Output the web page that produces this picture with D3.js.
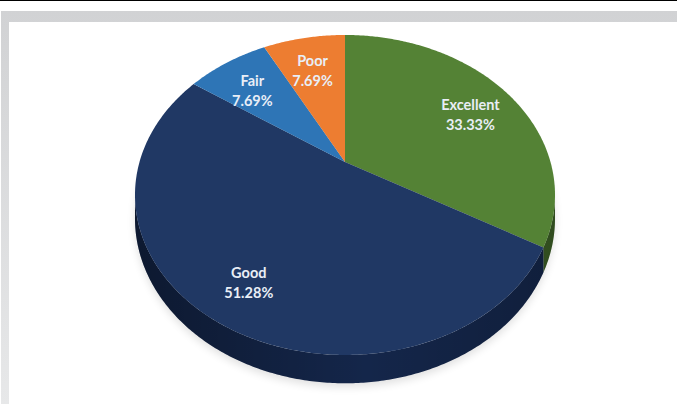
<!DOCTYPE html>
<html>
<head>
<meta charset="utf-8">
<script src="https://cdn.jsdelivr.net/npm/d3@7"></script>
<style>
  html, body { margin: 0; padding: 0; background: #ffffff; }
  svg { display: block; }
</style>
</head>
<body>
<svg id="chart" width="677" height="404"></svg>
<script>
// Survey rating shares
const categories = ["Excellent", "Good", "Fair", "Poor"];
const shares = [33.33, 51.28, 7.69, 7.69];
const shareLabels = ["33.33%", "51.28%", "7.69%", "7.69%"];
const topColors = ["#548235", "#203864", "#2e75b6", "#ed7d31"];
const sideColors = ["#3c5f26", "#14264a", "#1f5486", "#b45c20"];

const W = 677, H = 404;
const svg = d3.select("#chart");

// Frame: thin rule on top and a grey gradient border
const defs = svg.append("defs");
const fg = defs.append("linearGradient").attr("id", "frameGrad")
  .attr("x1", 0).attr("y1", 0).attr("x2", 0).attr("y2", 1);
fg.append("stop").attr("offset", "0%").attr("stop-color", "#d1d2d4");
fg.append("stop").attr("offset", "100%").attr("stop-color", "#e7e8e9");

svg.append("rect").attr("x", 0).attr("y", 0).attr("width", W).attr("height", 1).attr("fill", "#000");
svg.append("rect").attr("x", 1).attr("y", 11).attr("width", W - 1).attr("height", H - 11).attr("fill", "url(#frameGrad)");
svg.append("rect").attr("x", 9).attr("y", 22).attr("width", W - 9).attr("height", H - 22).attr("fill", "#ffffff");

// Perspective projection of the pie disk
const cx = 345, cy = 162;      // projected centre of the disk
const A = 205.5, B = 153.2;    // horizontal / vertical scale at centre
const c = 0.206;               // perspective foreshortening
const depth = 22.5;            // thickness of the pie

function proj(theta, r, dz) {
  const u = r * Math.sin(theta), v = r * Math.cos(theta);
  const w = 1 + c * v;
  return [cx + A * u / w, cy - B * v / w + dz / w];
}

function arcPoints(a0, a1, r, dz) {
  const n = Math.max(2, Math.ceil((a1 - a0) / 0.01));
  return d3.range(n + 1).map(i => proj(a0 + (a1 - a0) * i / n, r, dz));
}

const pie = d3.pie().sort(null).value(d => d.value);
const data = categories.map((name, i) => ({ name, value: shares[i], label: shareLabels[i], i }));
const arcs = pie(data);

// Soft shadow under the pie
const blur = defs.append("filter").attr("id", "soft").attr("x", "-20%").attr("y", "-20%").attr("width", "140%").attr("height", "140%");
blur.append("feGaussianBlur").attr("stdDeviation", 4);
const shadowPts = arcPoints(0, 2 * Math.PI, 1.0, depth + 3);
svg.append("path")
  .attr("d", d3.line()(shadowPts) + "Z")
  .attr("fill", "#000").attr("opacity", 0.12)
  .attr("filter", "url(#soft)");

// Side walls (front-facing part of the rim only)
const thetaS = Math.acos(-c);
const sideG = svg.append("g");
arcs.forEach(a => {
  const s = Math.max(a.startAngle, thetaS);
  const e = Math.min(a.endAngle, 2 * Math.PI - thetaS);
  if (e <= s) return;
  const topRim = arcPoints(s, e, 1, 0);
  const botRim = arcPoints(s, e, 1, depth).reverse();
  sideG.append("path")
    .attr("d", d3.line()(topRim.concat(botRim)) + "Z")
    .attr("fill", sideColors[a.data.i]);
});
// Darken the wall toward its ends
const sg = defs.append("linearGradient").attr("id", "sideShade")
  .attr("x1", 0).attr("y1", 0).attr("x2", 1).attr("y2", 0);
sg.append("stop").attr("offset", "0%").attr("stop-color", "#000").attr("stop-opacity", 0.35);
sg.append("stop").attr("offset", "55%").attr("stop-color", "#000").attr("stop-opacity", 0.0);
sg.append("stop").attr("offset", "100%").attr("stop-color", "#000").attr("stop-opacity", 0.2);
{
  const topRim = arcPoints(thetaS, 2 * Math.PI - thetaS, 1, 0);
  const botRim = arcPoints(thetaS, 2 * Math.PI - thetaS, 1, depth).reverse();
  sideG.append("path")
    .attr("d", d3.line()(topRim.concat(botRim)) + "Z")
    .attr("fill", "url(#sideShade)");
}

// Top faces
svg.append("g").selectAll("path")
  .data(arcs)
  .join("path")
  .attr("d", a => d3.line()([proj(0, 0, 0)].concat(arcPoints(a.startAngle, a.endAngle, 1, 0))) + "Z")
  .attr("fill", a => topColors[a.data.i]);

// Labels
const labelR = 0.76;
const lg = svg.append("g")
  .attr("font-family", "Lato, 'Open Sans', sans-serif")
  .attr("font-weight", "bold")
  .attr("font-size", 14.5)
  .attr("fill", "#e9eef6")
  .attr("text-anchor", "middle");
arcs.forEach(a => {
  const mid = (a.startAngle + a.endAngle) / 2;
  const [x, y] = proj(mid, labelR, 0);
  const t = lg.append("text").attr("x", x).attr("y", y + 5);
  t.append("tspan").attr("x", x).attr("dy", "-0.2em").text(a.data.name);
  t.append("tspan").attr("x", x).attr("dy", "1.38em").text(a.data.label);
});
</script>
</body>
</html>
